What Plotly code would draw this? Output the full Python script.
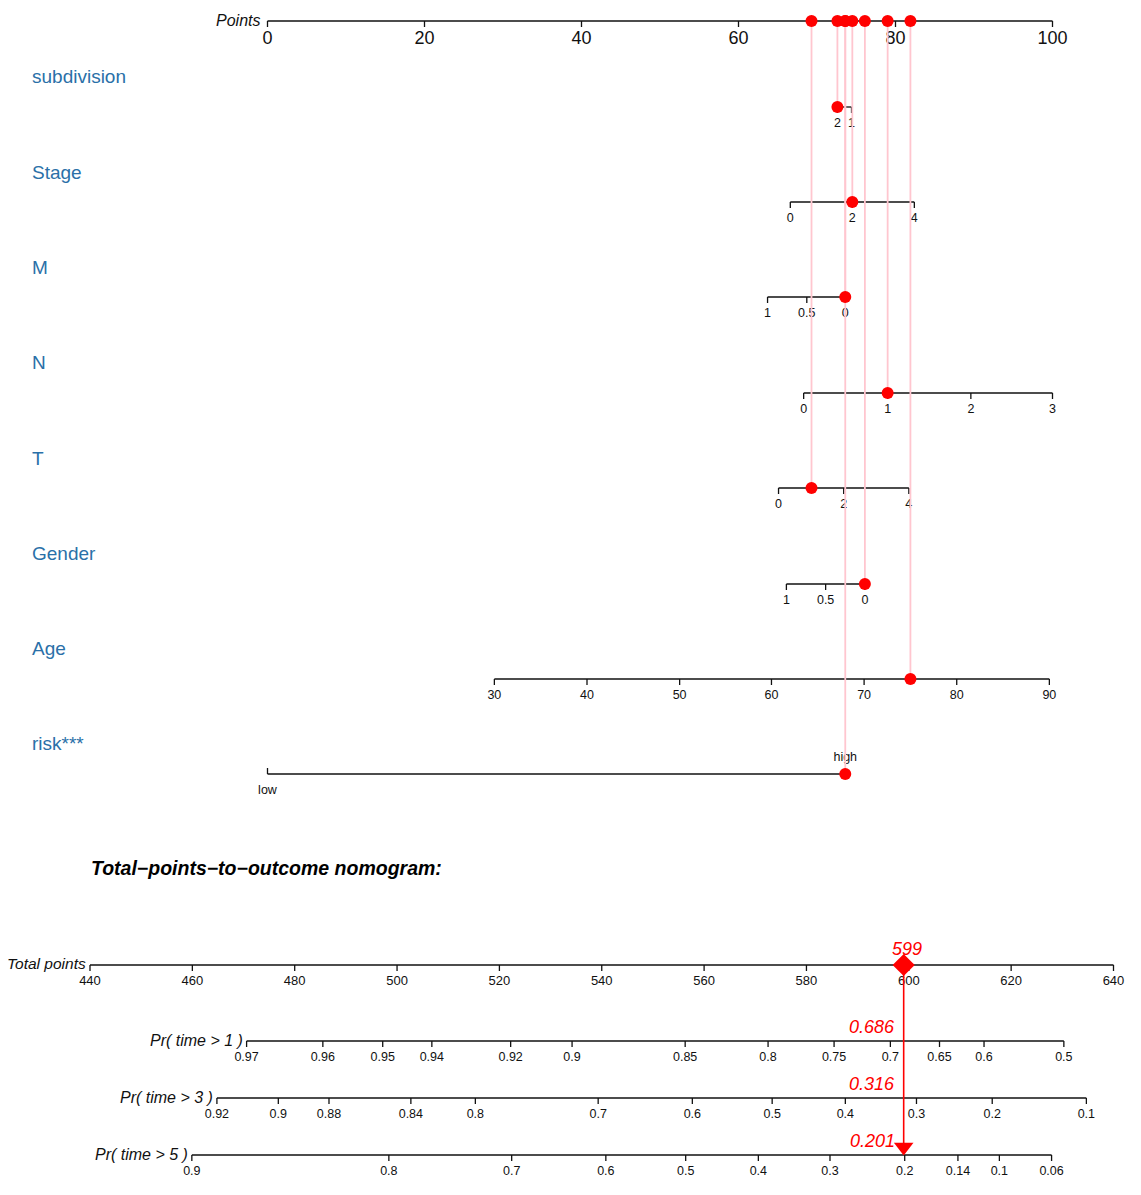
import plotly.graph_objects as go

# ---------------- data ----------------
points_ticks = [0, 20, 40, 60, 80, 100]

var_names = ["subdivision", "Stage", "M", "N", "T", "Gender", "Age", "risk***"]

subdivision_labels = ["2", "1"]
subdivision_points = [72.6, 74.4]
stage_labels = ["0", "2", "4"]
stage_points = [66.6, 74.5, 82.4]
m_labels = ["1", "0.5", "0"]
m_points = [63.7, 68.7, 73.6]
n_labels = ["0", "1", "2", "3"]
n_points = [68.3, 79.0, 89.6, 100.0]
t_labels = ["0", "2", "4"]
t_points = [65.1, 73.4, 81.7]
gender_labels = ["1", "0.5", "0"]
gender_points = [66.1, 71.1, 76.1]
age_labels = ["30", "40", "50", "60", "70", "80", "90"]
age_points = [28.9, 40.7, 52.5, 64.2, 76.0, 87.8, 99.6]
risk_labels = ["low", "high"]
risk_points = [0.0, 73.6]

# points scored by the highlighted case, per variable (same order as var_names)
selected_points = [72.6, 74.5, 73.6, 79.0, 69.3, 76.1, 81.9, 73.6]

total_ticks = [440, 460, 480, 500, 520, 540, 560, 580, 600, 620, 640]
total_score = 599

pr1_labels = ["0.97", "0.96", "0.95", "0.94", "0.92", "0.9", "0.85", "0.8", "0.75", "0.7", "0.65", "0.6", "0.5"]
pr1_points = [470.6, 485.5, 497.2, 506.8, 522.2, 534.2, 556.3, 572.5, 585.4, 596.4, 606.0, 614.7, 630.3]
pr3_labels = ["0.92", "0.9", "0.88", "0.84", "0.8", "0.7", "0.6", "0.5", "0.4", "0.3", "0.2", "0.1"]
pr3_points = [464.8, 476.8, 486.7, 502.7, 515.3, 539.3, 557.7, 573.3, 587.6, 601.5, 616.3, 634.7]
pr5_labels = ["0.9", "0.8", "0.7", "0.6", "0.5", "0.4", "0.3", "0.2", "0.14", "0.1", "0.06"]
pr5_points = [459.9, 498.4, 522.4, 540.8, 556.4, 570.6, 584.6, 599.2, 609.6, 617.7, 627.9]
pr_names = ["Pr( time > 1 )", "Pr( time > 3 )", "Pr( time > 5 )"]
pr_values = ["0.686", "0.316", "0.201"]

# ---------------- layout constants (page pixels) ----------------
W, H = 1141, 1195
OFF = 8  # default body margin of the html page
POINTS_Y = 21
VAR_LABEL_Y = [76, 172, 267, 362, 458, 553, 648, 743]
VAR_AXIS_Y = [107, 202, 297, 393, 488, 584, 679, 774]
TOTAL_Y = 965
PR_Y = [1041, 1098, 1155]

BLUE = "#2a70a8"
PINK = "#ffc6cf"
RED = "#ff0000"
SANS = "Liberation Sans, Arial, sans-serif"

fig = go.Figure()


def scale(xref, positions, labels, y, tick_dir=1, label_dy=None, font_size=12.5,
          family=SANS, tick_len=6, lw=1.3):
    xa = "x" if xref == "x" else "x2"
    lx = [min(positions), max(positions), None]
    ly = [y, y, None]
    for p in positions:
        lx += [p, p, None]
        ly += [y, y + tick_dir * tick_len, None]
    fig.add_trace(go.Scatter(x=lx, y=ly, mode="lines", xaxis=xa, yaxis="y",
                             line=dict(color="#111111", width=lw),
                             hoverinfo="skip"))
    if label_dy is None:
        label_dy = [17] * len(positions)
    fig.add_trace(go.Scatter(x=positions, y=[y + d for d in label_dy], mode="text",
                             text=labels, xaxis=xa, yaxis="y",
                             textposition="middle center",
                             textfont=dict(family=family, size=font_size, color="#111111"),
                             hoverinfo="skip"))


# --- top Points axis ---
scale("x", points_ticks, [str(v) for v in points_ticks], POINTS_Y, tick_dir=1,
      label_dy=[18] * len(points_ticks), font_size=18)
fig.add_annotation(x=0, y=POINTS_Y - 1, xref="x", yref="y", text="<i>Points</i>",
                   showarrow=False, xanchor="right", xshift=-6, yanchor="middle",
                   font=dict(family=SANS, size=16, color="#111111"))

# --- variable scales ---
var_scales = [
    (subdivision_points, subdivision_labels),
    (stage_points, stage_labels),
    (m_points, m_labels),
    (n_points, n_labels),
    (t_points, t_labels),
    (gender_points, gender_labels),
    (age_points, age_labels),
    (risk_points, risk_labels),
]

# pink guide lines from Points axis to each selected value
gx, gy = [], []
for sp, yv in zip(selected_points, VAR_AXIS_Y):
    gx += [sp, sp, None]
    gy += [POINTS_Y, yv, None]

for i, ((pts, labs), yv) in enumerate(zip(var_scales, VAR_AXIS_Y)):
    if var_names[i] == "risk***":
        scale("x", pts, labs, yv, tick_dir=-1, label_dy=[17, -16])
    else:
        scale("x", pts, labs, yv, tick_dir=1)
    fig.add_annotation(x=(30 - OFF) / W, y=VAR_LABEL_Y[i], xref="paper", yref="y",
                       text=var_names[i], showarrow=False, xanchor="left",
                       yanchor="middle",
                       font=dict(family=SANS, size=19, color=BLUE))

fig.add_trace(go.Scatter(x=gx, y=gy, mode="lines", xaxis="x", yaxis="y",
                         line=dict(color=PINK, width=1.8), hoverinfo="skip"))

# red dots on each variable scale and on the Points axis
fig.add_trace(go.Scatter(x=selected_points, y=VAR_AXIS_Y, mode="markers",
                         xaxis="x", yaxis="y",
                         marker=dict(color=RED, size=12), hoverinfo="skip"))
fig.add_trace(go.Scatter(x=selected_points, y=[POINTS_Y] * len(selected_points),
                         mode="markers", xaxis="x", yaxis="y",
                         marker=dict(color=RED, size=12), hoverinfo="skip"))

# --- title of lower block ---
fig.add_annotation(x=(89 - OFF) / W, y=868, xref="paper", yref="y",
                   text="<b><i>Total\u2212points\u2212to\u2212outcome nomogram:</i></b>",
                   showarrow=False, xanchor="left", yanchor="middle",
                   font=dict(family=SANS, size=19.5, color="#000000"))

# --- Total points axis ---
scale("x2", total_ticks, [str(v) for v in total_ticks], TOTAL_Y, tick_dir=1,
      font_size=13)
fig.add_annotation(x=min(total_ticks), y=TOTAL_Y - 2, xref="x2", yref="y",
                   text="<i>Total points</i>", showarrow=False, xanchor="right",
                   xshift=-2, yanchor="middle",
                   font=dict(family=SANS, size=15.5, color="#111111"))

# --- probability axes ---
for (pts, labs), yv, nm in zip([(pr1_points, pr1_labels), (pr3_points, pr3_labels),
                                (pr5_points, pr5_labels)], PR_Y, pr_names):
    scale("x2", pts, labs, yv, tick_dir=1, font_size=12.5)
    fig.add_annotation(x=min(pts), y=yv - 1, xref="x2", yref="y",
                       text="<i>" + nm + "</i>", showarrow=False, xanchor="right",
                       xshift=-2, yanchor="middle",
                       font=dict(family=SANS, size=16, color="#111111"))

# --- red result marks ---
fig.add_trace(go.Scatter(x=[total_score, total_score], y=[TOTAL_Y, PR_Y[2] - 8],
                         mode="lines", xaxis="x2", yaxis="y",
                         line=dict(color=RED, width=1.6), hoverinfo="skip"))
fig.add_trace(go.Scatter(x=[total_score], y=[TOTAL_Y], mode="markers",
                         xaxis="x2", yaxis="y",
                         marker=dict(symbol="diamond", color=RED, size=17),
                         hoverinfo="skip"))
fig.add_trace(go.Scatter(x=[total_score], y=[PR_Y[2] - 8], mode="markers",
                         xaxis="x2", yaxis="y",
                         marker=dict(symbol="triangle-down", color=RED, size=17),
                         hoverinfo="skip"))
fig.add_annotation(x=total_score, y=TOTAL_Y - 16, xref="x2", yref="y",
                   text="<i>" + str(total_score) + "</i>", showarrow=False,
                   xanchor="center", yanchor="middle", xshift=3,
                   font=dict(family=SANS, size=18, color=RED))
for val, yv in zip(pr_values, PR_Y):
    fig.add_annotation(x=total_score, y=yv - 14, xref="x2", yref="y",
                       text="<i>" + val + "</i>", showarrow=False,
                       xanchor="right", xshift=-7, yanchor="middle",
                       font=dict(family=SANS, size=18, color=RED))

# --- axes / layout: map page pixels through the axis ranges ---
px_per_pt = (1052.5 - 267.5) / 100.0
x_lo = -(267.5 - OFF) / px_per_pt
x_hi = x_lo + W / px_per_pt
px_per_tot = (1113.5 - 90.0) / 200.0
x2_lo = 440 - (90.0 - OFF) / px_per_tot
x2_hi = x2_lo + W / px_per_tot

fig.update_layout(
    width=W, height=H,
    margin=dict(l=0, r=0, t=0, b=0),
    paper_bgcolor="white", plot_bgcolor="white",
    showlegend=False,
    xaxis=dict(range=[x_lo, x_hi], visible=False, domain=[0, 1], fixedrange=True),
    xaxis2=dict(range=[x2_lo, x2_hi], visible=False, overlaying="x", anchor="y",
                fixedrange=True),
    yaxis=dict(range=[H + OFF, OFF], visible=False, domain=[0, 1], fixedrange=True),
)

fig.write_html("out.html", config={"displayModeBar": False})
